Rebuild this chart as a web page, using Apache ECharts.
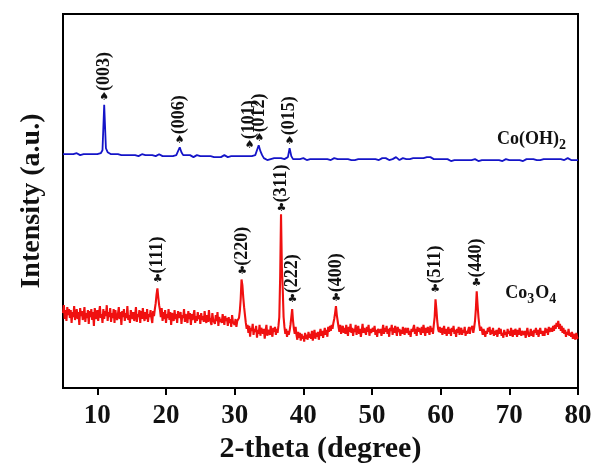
<!DOCTYPE html>
<html><head><meta charset="utf-8">
<script src="https://cdn.jsdelivr.net/npm/echarts@6/dist/echarts.min.js"></script>
<style>html,body{margin:0;padding:0;background:#fff}#c{width:595px;height:469px}</style>
</head><body><div id="c"></div><script>
// 2-theta sampling grids start at 5 degrees
const xStart = 5;
const blueStep = 0.25;
const redStep = 0.125;
const xTicks = [10, 20, 30, 40, 50, 60, 70, 80];

// Co(OH)2 intensity (a.u., offset trace), 5..80 step 0.25
const coOH2 = [
237,236,237,238, 237,236,237,237, 238,237,236,237, 237,238,237,236, 237,236,237,238,
237,237,238,241, 287,243,239,238, 237,238,237,236, 237,236,236,237, 236,237,236,235,
236,237,236,236, 235,236,237,236, 236,235,236,235, 236,236,235,236, 237,236,235,236,
235,236,235,236, 235,236,236,238, 244,239,236,235, 236,235,236,235, 234,235,236,235,
235,234,235,234, 235,234,235,236, 234,235,234,235, 234,235,236,235, 234,234,235,234,
235,234,235,234, 235,236,235,234, 235,237,235,236, 236,237,246,240, 236,233,232,231,
231,232,231,233, 232,233,232,233, 233,232,233,234, 243,235,232,233, 232,233,232,232,
233,232,231,232, 232,233,232,231, 232,231,232,233, 232,231,232,232, 231,232,233,232,
232,231,232,231, 232,233,232,231, 231,232,231,232, 232,233,232,231, 232,231,232,233,
232,233,232,231, 231,232,233,232, 233,232,231,232, 232,233,234,232, 231,232,233,232,
232,231,232,233, 233,232,233,232, 233,234,233,235, 234,236,234,233, 232,233,232,231,
232,231,232,231, 232,231,230,231, 231,232,231,230, 231,232,231,232, 231,230,231,232,
232,231,230,231, 231,232,231,230, 231,230,231,232, 231,232,231,230, 230,231,232,231,
231,230,231,230, 231,232,231,230, 230,231,232,231, 232,231,232,233, 231,232,231,232,
232,231,232,231, 232,233,232,231, 232,231,232,233, 231,232,233,232, 231,232,231,232,
231];

// Co3O4 intensity (a.u.), 5..80 step 0.125
const co3o4 = [
76,84,70,79,68,82,74,80,  71,79,66,77,72,83,69,75,  80,70,77,64,81,73,78,69,
74,82,67,76,71,79,65,78,  72,80,69,77,63,81,74,70,  79,68,76,83,71,75,66,80,
70,78,73,84,68,77,72,81,  67,76,71,80,66,79,73,69,  75,82,70,77,64,78,72,80,
68,76,71,83,69,74,66,79,  81,70,77,68,74,82,67,75,  72,79,66,78,70,81,73,68,
77,70,80,67,75,72,79,71,  66,78,73,80,86,95,101,92, 84,79,72,81,68,77,70,79,
66,75,71,80,69,77,64,76,  72,68,79,70,75,66,78,71,  69,77,65,74,71,80,67,75,
73,66,78,70,76,64,75,69,  71,79,66,73,68,77,70,74,  65,76,69,73,67,78,70,66,
74,67,79,70,72,64,76,69,  71,65,74,68,77,63,72,67,  70,66,75,69,64,73,68,71,
63,72,66,70,62,74,67,69,  64,70,62,68,66,71,78,90,  110,104,92,82,74,66,60,64,
56,63,52,61,58,65,54,60,  57,63,51,59,55,64,53,61,  62,55,60,50,58,64,53,59,
60,54,63,56,52,61,57,62,  54,60,56,63,72,112,176,122, 100,72,62,55,60,52,58,54,
58,64,72,80,68,60,55,62,  54,49,57,51,56,48,55,50,  53,47,56,50,54,49,57,51,
55,50,58,48,54,59,50,56,  52,57,49,55,60,53,58,51,  56,61,54,59,52,62,57,63,
58,64,60,66,70,76,83,74,  68,62,57,64,55,60,63,56,  61,55,64,58,53,62,57,65,
56,61,53,60,57,64,54,59,  63,55,60,52,58,65,56,61,  59,54,62,57,64,53,60,56,
55,61,57,63,54,59,52,60,  62,56,60,53,58,64,55,61,  57,63,55,60,52,61,58,64,
54,61,56,63,58,53,62,57,  60,53,59,55,62,57,54,61,  63,56,61,54,58,52,60,57,
58,64,55,60,53,62,57,61,  60,54,62,56,64,58,53,61,  56,62,58,54,63,57,61,55,
64,72,90,80,68,60,57,62,  56,61,54,59,63,55,60,53,  58,62,55,60,53,61,57,63,
55,59,52,60,56,62,54,58,  61,54,59,56,62,53,58,55,  57,62,55,60,58,63,56,61,
68,80,98,84,72,64,58,62,  59,54,60,56,52,58,55,61,  57,62,54,59,55,61,53,58,
54,59,52,57,61,55,60,53,  56,51,59,54,57,52,60,55,  58,53,61,55,52,59,54,60,
57,52,59,54,61,56,53,58,  60,54,58,51,56,61,55,52,  55,60,53,58,52,59,56,61,
54,59,52,57,61,55,58,53,  58,53,61,56,60,54,62,57,  55,61,57,63,58,64,60,66,
62,68,60,65,58,63,56,61,  55,59,52,57,54,60,53,56,  52,57,50,55,53,49,56,51,
50];

// Peak annotations
const blueNames = ['(003)', '(006)', '(101)', '(012)', '(015)'];
const blueX = [11.0, 22.0, 32.2, 33.6, 38.0];
const blueY = [295, 251, 246, 253, 250];

const redNames = ['(111)', '(220)', '(311)', '(222)', '(400)', '(511)', '(440)'];
const redX = [18.8, 31.1, 36.8, 38.4, 44.8, 59.2, 65.2];
const redY = [110, 118, 182, 90, 91, 100, 106];

// Trace tags (text segments; 1 = subscript)
const tagParts = [[['Co(OH)', 0], ['2', 1]], [['Co', 0], ['3', 1], ['O', 0], ['4', 1]]];
const tagX = [68.2, 69.4];
const tagY = [252, 96];

const SERIF = '"Liberation Serif","Times New Roman",serif';
const mainFont = 'bold 18px ' + SERIF;
const subFont = 'bold 14px ' + SERIF;
const mctx = document.createElement('canvas').getContext('2d');
function textW(t, f) { mctx.font = f; return mctx.measureText(t).width; }

function toPairs(arr, step) { return arr.map((v, i) => [xStart + i * step, v]); }

function peakSeries(names, xs, ys, glyph) {
  return {
    type: 'custom', silent: true, z: 5,
    data: xs.map((x, i) => [x, ys[i]]),
    renderItem(params, api) {
      const p = api.coord([api.value(0), api.value(1)]);
      return {
        type: 'group', children: [
          { type: 'text', x: p[0], y: p[1],
            style: { text: glyph, align: 'center', verticalAlign: 'middle', font: '11px "DejaVu Sans"', fill: '#111' } },
          { type: 'text', x: p[0], y: p[1] - 6, rotation: Math.PI / 2,
            style: { text: names[params.dataIndex], align: 'left', verticalAlign: 'middle', font: 'bold 18px ' + SERIF, fill: '#111' } }
        ]
      };
    }
  };
}

const chart = echarts.init(document.getElementById('c'), null, { renderer: 'canvas' });
chart.setOption({
  animation: false,
  backgroundColor: '#fff',
  grid: { left: 63, right: 17, top: 14, bottom: 76, show: true, borderColor: '#000', borderWidth: 2, containLabel: false },
  xAxis: {
    type: 'value', min: 5, max: 80,
    name: '2-theta (degree)', nameLocation: 'middle', nameGap: 42,
    nameTextStyle: { fontFamily: SERIF, fontWeight: 'bold', fontSize: 30, color: '#111' },
    axisLine: { show: true, lineStyle: { color: '#000', width: 2 } },
    axisTick: { show: true, inside: false, length: 7, lineStyle: { color: '#000', width: 2 }, customValues: xTicks },
    axisLabel: { customValues: xTicks, margin: 14, fontFamily: SERIF, fontWeight: 'bold', fontSize: 27, color: '#111' },
    splitLine: { show: false }
  },
  yAxis: {
    type: 'value', min: 0, max: 379,
    name: 'Intensity (a.u.)', nameLocation: 'middle', nameGap: 17,
    nameTextStyle: { fontFamily: SERIF, fontWeight: 'bold', fontSize: 28, color: '#111' },
    axisLine: { show: true, lineStyle: { color: '#000', width: 2 } },
    axisTick: { show: false }, axisLabel: { show: false }, splitLine: { show: false }
  },
  series: [
    { name: 'Co(OH)2', type: 'line', data: toPairs(coOH2, blueStep), showSymbol: false, silent: true,
      lineStyle: { color: '#1414c8', width: 1.8 }, itemStyle: { color: '#1414c8' } },
    { name: 'Co3O4', type: 'line', data: toPairs(co3o4, redStep), showSymbol: false, silent: true,
      lineStyle: { color: '#f01010', width: 2.1 }, itemStyle: { color: '#f01010' } },
    peakSeries(blueNames, blueX, blueY, '\u2660'),
    peakSeries(redNames, redX, redY, '\u2663'),
    {
      type: 'custom', silent: true, z: 5,
      data: tagX.map((x, i) => [x, tagY[i]]),
      renderItem(params, api) {
        const p = api.coord([api.value(0), api.value(1)]);
        const parts = tagParts[params.dataIndex];
        let cx = p[0];
        const children = parts.map(([t, sub]) => {
          const f = sub ? subFont : mainFont;
          const el = { type: 'text', x: cx, y: p[1] + (sub ? 6 : 0),
            style: { text: t, align: 'left', verticalAlign: 'middle', font: f, fill: '#111' } };
          cx += textW(t, f) + (sub ? 1 : 0);
          return el;
        });
        return { type: 'group', children };
      }
    }
  ]
});
</script></body></html>
